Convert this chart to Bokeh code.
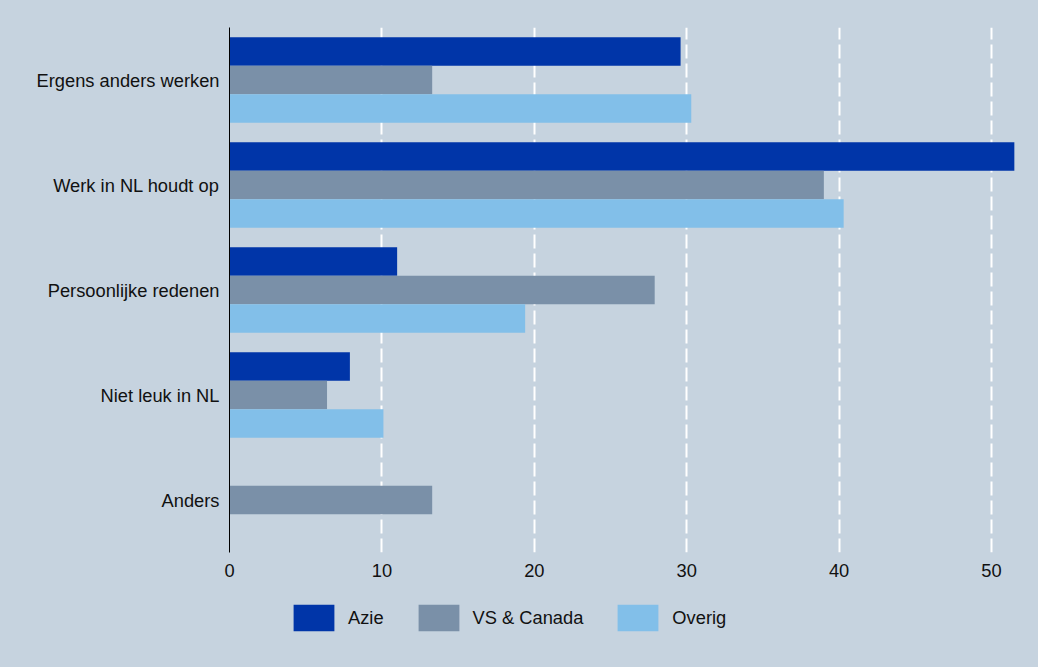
from bokeh.plotting import figure
from bokeh.layouts import column
from bokeh.models import ColumnDataSource, FactorRange, FixedTicker, Legend, LegendItem, Range1d
from bokeh.transform import dodge
from bokeh.embed import file_html
from bokeh.resources import INLINE

categories = ["Ergens anders werken", "Werk in NL houdt op", "Persoonlijke redenen", "Niet leuk in NL", "Anders"]
azie = [29.6, 51.5, 11.0, 7.9, 0.0]
vs_canada = [13.3, 39.0, 27.9, 6.4, 13.3]
overig = [30.3, 40.3, 19.4, 10.1, 0.0]
series_names = ["Azie", "VS & Canada", "Overig"]
x_ticks = [0, 10, 20, 30, 40, 50]

colors = ["#0035a8", "#7a90a8", "#82bfe9"]
bg = "#c6d3df"
font = "Liberation Sans"
fsize = "18.3px"

source = ColumnDataSource(dict(cat=categories, azie=azie, vs=vs_canada, overig=overig))

p = figure(width=1038, height=590, output_backend="svg", toolbar_location=None,
           y_range=FactorRange(factors=list(reversed(categories))),
           x_range=(0, 52.56),
           min_border_left=229, min_border_top=27, min_border_right=8, min_border_bottom=38)

p.background_fill_color = bg
p.border_fill_color = bg
p.outline_line_color = None

bh = 0.272
offsets = [bh, 0.0, -bh]
cols = ["azie", "vs", "overig"]
for col, off, c in zip(cols, offsets, colors):
    p.hbar(y=dodge("cat", off, range=p.y_range), right=col, left=0, height=bh,
           source=source, fill_color=c, line_color=None)

# axes
p.yaxis.axis_line_color = "black"
p.yaxis.axis_line_width = 1
p.yaxis.major_tick_line_color = None
p.yaxis.minor_tick_line_color = None
p.yaxis.major_label_text_font = font
p.yaxis.major_label_text_font_size = fsize
p.yaxis.major_label_text_color = "#111111"
p.yaxis.major_label_standoff = 4

p.xaxis.ticker = FixedTicker(ticks=x_ticks)
p.xaxis.axis_line_color = None
p.xaxis.major_tick_line_color = None
p.xaxis.minor_tick_line_color = None
p.xaxis.major_label_text_font = font
p.xaxis.major_label_text_font_size = fsize
p.xaxis.major_label_text_color = "#111111"
p.xaxis.major_label_standoff = 5

p.ygrid.grid_line_color = None
p.xgrid.ticker = FixedTicker(ticks=[t for t in x_ticks if t != 0])
p.xgrid.grid_line_color = "white"
p.xgrid.grid_line_width = 2
p.xgrid.grid_line_dash = "14 5"

# legend strip below the chart (zero-size bars: only the legend shows)
p2 = figure(width=1038, height=77, output_backend="svg", toolbar_location=None,
            x_range=Range1d(-2, -1), y_range=FactorRange(factors=list(reversed(categories))),
            min_border_left=0, min_border_right=0, min_border_top=0, min_border_bottom=0)
p2.axis.visible = False
p2.grid.visible = False
p2.outline_line_color = None
p2.background_fill_color = bg
p2.border_fill_color = bg

items = []
for name, col, c in zip(series_names, cols, colors):
    r = p2.hbar(y="cat", right=col, left=col, height=0, source=source,
                fill_color=c, line_color=None)
    items.append(LegendItem(label=name, renderers=[r]))

legend = Legend(items=items, orientation="horizontal", location=(59, 33))
legend.background_fill_alpha = 0
legend.border_line_color = None
legend.glyph_width = 51
legend.glyph_height = 33
legend.label_standoff = 9
legend.spacing = 29
legend.padding = 0
legend.margin = 0
legend.label_text_font = font
legend.label_text_font_size = fsize
legend.label_text_color = "#111111"
p2.add_layout(legend, "center")

layout = column(p, p2, spacing=0, styles={"background-color": bg})
open("out.html", "w").write(file_html(layout, INLINE))
